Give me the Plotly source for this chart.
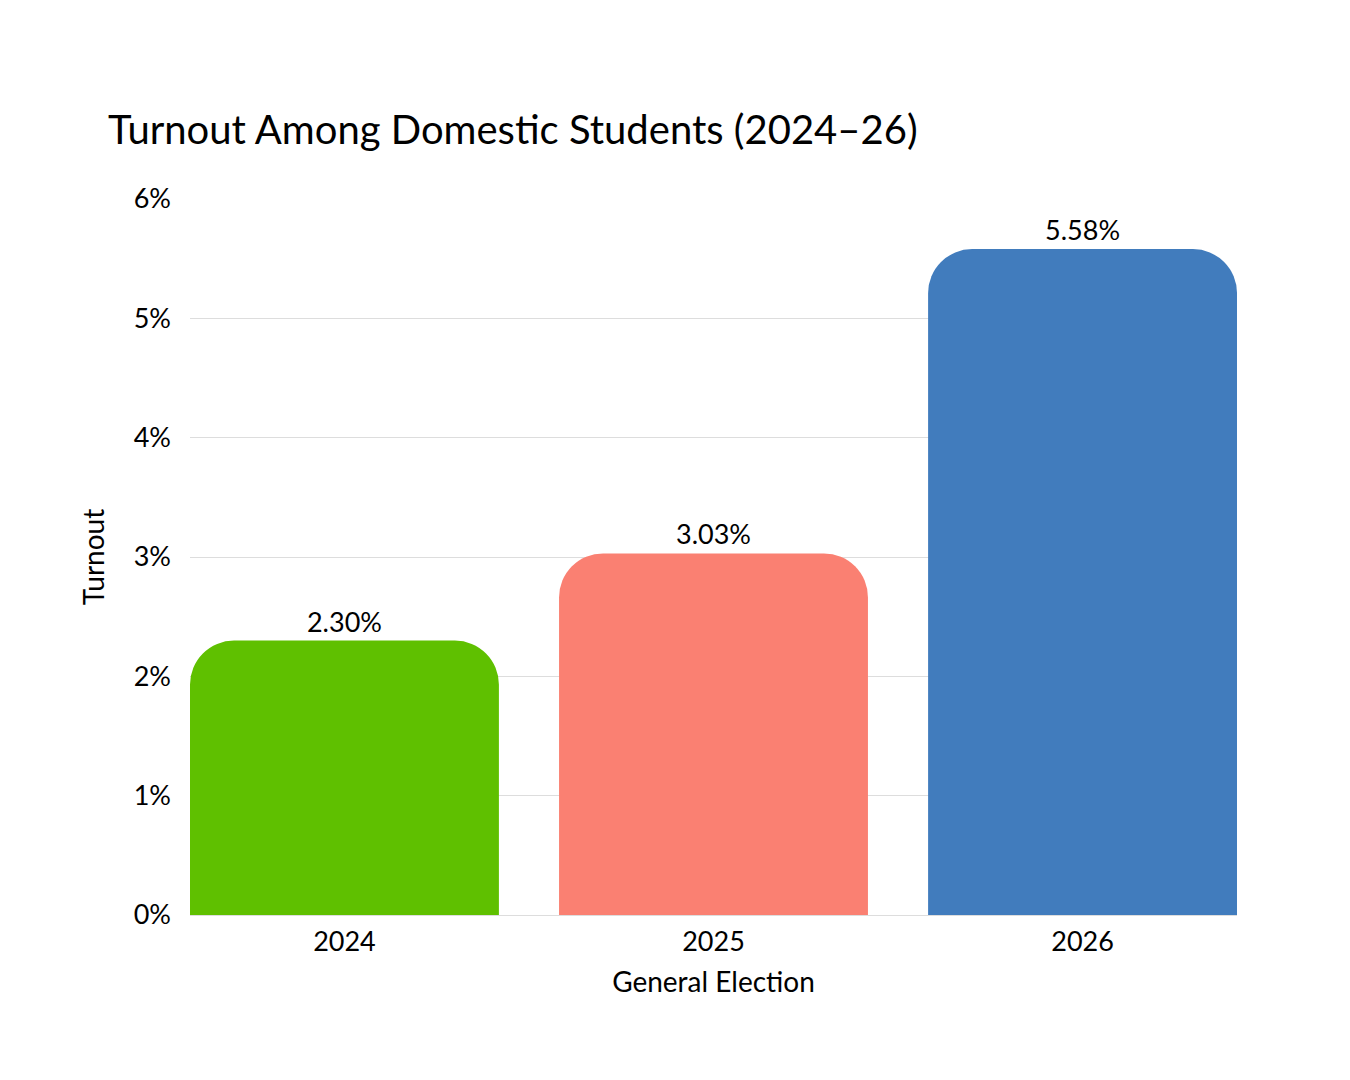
import plotly.graph_objects as go

categories = ["2024", "2025", "2026"]
turnout = [2.30, 3.03, 5.58]
colors = ["#5fc000", "#fa8072", "#417cbd"]
y_ticks = [0, 1, 2, 3, 4, 5, 6]
y_tick_labels = ["0%", "1%", "2%", "3%", "4%", "5%", "6%"]

FONT = "Lato"
BARGAP = 0.163
half = (1 - BARGAP) / 2

fig = go.Figure(go.Bar(
    x=categories,
    y=turnout,
    marker=dict(color=colors, line=dict(width=0)),
    text=[f"{v:.2f}%" for v in turnout],
    textposition="outside",
    textfont=dict(size=27, color="#000000", family=FONT),
    cliponaxis=False,
))

fig.update_layout(
    width=1350, height=1080,
    paper_bgcolor="white", plot_bgcolor="white",
    margin=dict(l=182, r=121, t=191, b=173, autoexpand=False),
    bargap=BARGAP,
    barcornerradius=44,
    font=dict(family=FONT, color="#000000", size=27),
    title=dict(
        text="Turnout Among Domestic Students (2024–26)",
        x=100 / 1350, xanchor="left", xref="container",
        y=1 - 122 / 1080, yanchor="middle", yref="container",
        font=dict(size=40, family=FONT, color="#000000"),
    ),
    showlegend=False,
)

fig.update_xaxes(
    type="category",
    range=[-half, len(categories) - 1 + half],
    title=dict(text="General Election", font=dict(size=28), standoff=16),
    tickfont=dict(size=27),
    showgrid=False,
    showline=False,
    ticks="",
    ticklabelstandoff=8,
)
fig.update_yaxes(
    range=[0, 6],
    tickvals=y_ticks,
    ticktext=y_tick_labels,
    tickfont=dict(size=27),
    showgrid=True, gridcolor="#dddddd", gridwidth=1,
    zeroline=True, zerolinecolor="#dddddd", zerolinewidth=1,
    ticks="", ticklabelstandoff=18,
    title=dict(text="Turnout", font=dict(size=28), standoff=20),
)

fig.write_html("out.html")
